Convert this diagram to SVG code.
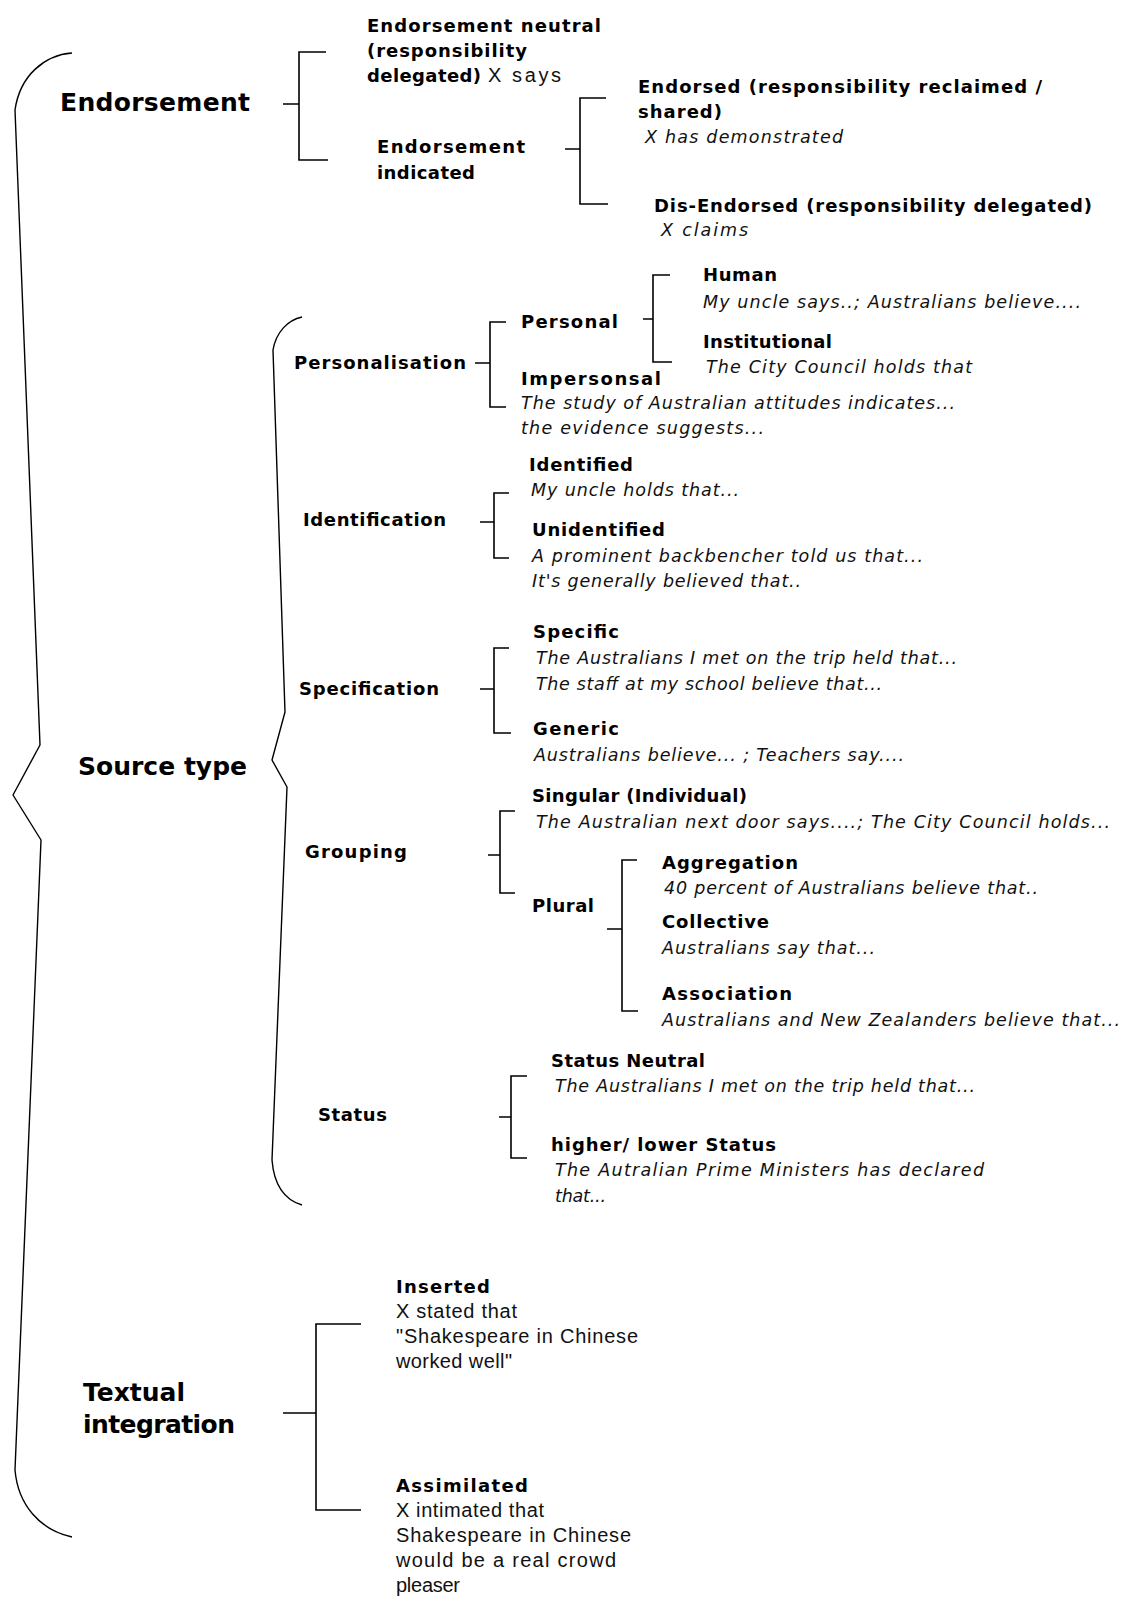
<svg xmlns="http://www.w3.org/2000/svg" width="1126" height="1597" viewBox="0 0 1126 1597">
<style>
text{fill:#000;font-family:"DejaVu Sans",Verdana,sans-serif}
.big{font-weight:bold;font-size:25px}
.b{font-weight:bold;font-size:18px}
.r{font-family:"Liberation Sans",Arial,sans-serif;font-size:20px;fill:#111}
.i{font-size:17.5px;font-style:italic;fill:#111}
.ln{fill:none;stroke:#000;stroke-width:1.6}
.br{fill:none;stroke:#000;stroke-width:1.4;stroke-linejoin:round}
</style>
<rect width="1126" height="1597" fill="#fff"/>
<g id="connectors">
<path class="br" d="M72,53 C45,55 20,75 15,110 L40,745 L13,795 L41,840 L15,1470 C18,1505 40,1530 72,1537"/>
<path class="br" d="M302,317 C288,320 276,332 273,350 L285,712 L272,760 L287,787 L272,1160 C274,1185 285,1200 302,1205"/>
<path class="ln" d="M326,52 H299 V160 H328 M283,104 H299"/>
<path class="ln" d="M606,98 H580 V204 H608 M565,149 H580"/>
<path class="ln" d="M506,322 H490 V407 H506 M475,363 H490"/>
<path class="ln" d="M670,275 H653 V362 H672 M643,319 H653"/>
<path class="ln" d="M509,493 H494 V558 H509 M480,522 H494"/>
<path class="ln" d="M509,648 H494 V733 H511 M480,689 H494"/>
<path class="ln" d="M515,811 H500 V893 H515 M488,855 H500"/>
<path class="ln" d="M637,860 H622 V1011 H638 M607,929 H622"/>
<path class="ln" d="M527,1076 H511 V1158 H527 M499,1117 H511"/>
<path class="ln" d="M361,1324 H316 V1510 H361 M283,1413 H316"/>
</g>
<g id="endorsement"><text class="big" x="60" y="111" textLength="190" lengthAdjust="spacing">Endorsement</text></g>
<g id="endorsement-neutral">
<text class="b" x="367" y="32" textLength="234" lengthAdjust="spacing">Endorsement neutral</text>
<text class="b" x="367" y="57" textLength="160" lengthAdjust="spacing">(responsibility</text>
<text class="b" x="367" y="82" textLength="114" lengthAdjust="spacing">delegated)</text>
<text class="r" x="488" y="82" textLength="73" lengthAdjust="spacing">X says</text>
</g>
<g id="endorsement-indicated">
<text class="b" x="377" y="153" textLength="148" lengthAdjust="spacing">Endorsement</text>
<text class="b" x="377" y="179" textLength="98" lengthAdjust="spacing">indicated</text>
</g>
<g id="endorsed">
<text class="b" x="638" y="93" textLength="404" lengthAdjust="spacing">Endorsed (responsibility reclaimed /</text>
<text class="b" x="638" y="118" textLength="84" lengthAdjust="spacing">shared)</text>
<text class="i" x="645" y="143" textLength="198" lengthAdjust="spacing">X has demonstrated</text>
</g>
<g id="dis-endorsed">
<text class="b" x="654" y="212" textLength="438" lengthAdjust="spacing">Dis-Endorsed (responsibility delegated)</text>
<text class="i" x="661" y="236" textLength="87" lengthAdjust="spacing">X claims</text>
</g>
<g id="source-type"><text class="big" x="78" y="775" textLength="169" lengthAdjust="spacing">Source type</text></g>
<g id="personalisation"><text class="b" x="294" y="369" textLength="172" lengthAdjust="spacing">Personalisation</text></g>
<g id="personal"><text class="b" x="521" y="328" textLength="97" lengthAdjust="spacing">Personal</text></g>
<g id="human">
<text class="b" x="703" y="281" textLength="74" lengthAdjust="spacing">Human</text>
<text class="i" x="703" y="308" textLength="378" lengthAdjust="spacing">My uncle says..; Australians believe....</text>
</g>
<g id="institutional">
<text class="b" x="703" y="348" textLength="129" lengthAdjust="spacing">Institutional</text>
<text class="i" x="706" y="373" textLength="266" lengthAdjust="spacing">The City Council holds that</text>
</g>
<g id="impersonal">
<text class="b" x="521" y="385" textLength="140" lengthAdjust="spacing">Impersonsal</text>
<text class="i" x="521" y="409" textLength="434" lengthAdjust="spacing">The study of Australian attitudes indicates...</text>
<text class="i" x="521" y="434" textLength="243" lengthAdjust="spacing">the evidence suggests...</text>
</g>
<g id="identification"><text class="b" x="303" y="526" textLength="143" lengthAdjust="spacing">Identification</text></g>
<g id="identified">
<text class="b" x="529" y="471" textLength="104" lengthAdjust="spacing">Identified</text>
<text class="i" x="531" y="496" textLength="208" lengthAdjust="spacing">My uncle holds that...</text>
</g>
<g id="unidentified">
<text class="b" x="532" y="536" textLength="133" lengthAdjust="spacing">Unidentified</text>
<text class="i" x="532" y="562" textLength="391" lengthAdjust="spacing">A prominent backbencher told us that...</text>
<text class="i" x="532" y="587" textLength="269" lengthAdjust="spacing">It's generally believed that..</text>
</g>
<g id="specification"><text class="b" x="299" y="695" textLength="140" lengthAdjust="spacing">Specification</text></g>
<g id="specific">
<text class="b" x="533" y="638" textLength="86" lengthAdjust="spacing">Specific</text>
<text class="i" x="536" y="664" textLength="421" lengthAdjust="spacing">The Australians I met on the trip held that...</text>
<text class="i" x="536" y="690" textLength="346" lengthAdjust="spacing">The staff at my school believe that...</text>
</g>
<g id="generic">
<text class="b" x="533" y="735" textLength="86" lengthAdjust="spacing">Generic</text>
<text class="i" x="534" y="761" textLength="370" lengthAdjust="spacing">Australians believe... ; Teachers say....</text>
</g>
<g id="grouping"><text class="b" x="305" y="858" textLength="102" lengthAdjust="spacing">Grouping</text></g>
<g id="singular">
<text class="b" x="532" y="802" textLength="215" lengthAdjust="spacing">Singular (Individual)</text>
<text class="i" x="536" y="828" textLength="574" lengthAdjust="spacing">The Australian next door says....; The City Council holds...</text>
</g>
<g id="plural"><text class="b" x="532" y="912" textLength="62" lengthAdjust="spacing">Plural</text></g>
<g id="aggregation">
<text class="b" x="662" y="869" textLength="136" lengthAdjust="spacing">Aggregation</text>
<text class="i" x="664" y="894" textLength="374" lengthAdjust="spacing">40 percent of Australians believe that..</text>
</g>
<g id="collective">
<text class="b" x="662" y="928" textLength="107" lengthAdjust="spacing">Collective</text>
<text class="i" x="662" y="954" textLength="213" lengthAdjust="spacing">Australians say that...</text>
</g>
<g id="association">
<text class="b" x="662" y="1000" textLength="130" lengthAdjust="spacing">Association</text>
<text class="i" x="662" y="1026" textLength="458" lengthAdjust="spacing">Australians and New Zealanders believe that...</text>
</g>
<g id="status"><text class="b" x="318" y="1121" textLength="69" lengthAdjust="spacing">Status</text></g>
<g id="status-neutral">
<text class="b" x="551" y="1067" textLength="154" lengthAdjust="spacing">Status Neutral</text>
<text class="i" x="555" y="1092" textLength="420" lengthAdjust="spacing">The Australians I met on the trip held that...</text>
</g>
<g id="higher-lower-status">
<text class="b" x="551" y="1151" textLength="225" lengthAdjust="spacing">higher/ lower Status</text>
<text class="i" x="555" y="1176" textLength="429" lengthAdjust="spacing">The Autralian Prime Ministers has declared</text>
<text class="i" x="555" y="1202" textLength="51" lengthAdjust="spacing">that...</text>
</g>
<g id="textual-integration">
<text class="big" x="83" y="1401">Textual</text>
<text class="big" x="83" y="1433" textLength="152" lengthAdjust="spacing">integration</text>
</g>
<g id="inserted">
<text class="b" x="396" y="1293" textLength="94" lengthAdjust="spacing">Inserted</text>
<text class="r" x="396" y="1318" textLength="121" lengthAdjust="spacing">X stated that</text>
<text class="r" x="396" y="1343" textLength="242" lengthAdjust="spacing">"Shakespeare in Chinese</text>
<text class="r" x="396" y="1368" textLength="116" lengthAdjust="spacing">worked well"</text>
</g>
<g id="assimilated">
<text class="b" x="396" y="1492" textLength="132" lengthAdjust="spacing">Assimilated</text>
<text class="r" x="396" y="1517" textLength="148" lengthAdjust="spacing">X intimated that</text>
<text class="r" x="396" y="1542" textLength="235" lengthAdjust="spacing">Shakespeare in Chinese</text>
<text class="r" x="396" y="1567" textLength="220" lengthAdjust="spacing">would be a real crowd</text>
<text class="r" x="396" y="1592" textLength="64" lengthAdjust="spacing">pleaser</text>
</g>
</svg>
